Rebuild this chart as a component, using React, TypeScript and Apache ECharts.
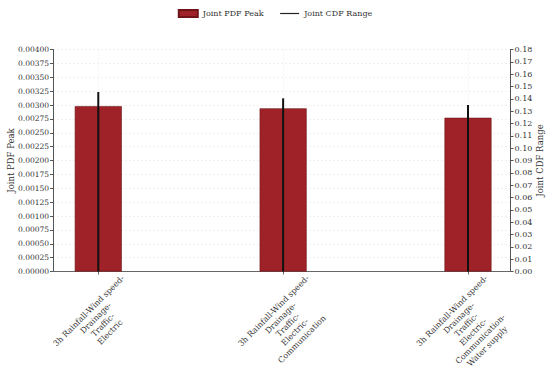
import React, { useEffect, useRef } from "react";
import * as echarts from "echarts";

const categories = [
  "3h Rainfall-Wind speed-\nDrainage-\nTraffic-\nElectric",
  "3h Rainfall-Wind speed-\nDrainage-\nTraffic-\nElectric-\nCommunication",
  "3h Rainfall-Wind speed-\nDrainage-\nTraffic-\nElectric-\nCommunication-\nWater supply",
];
const pdfPeak = [0.00298, 0.00294, 0.00277];
const cdfLow = [0, 0, 0];
const cdfHigh = [0.1455, 0.1404, 0.135];
const positions = [0, 1, 2];
const labelShift = [-0.07, -0.07, -0.105];

const FONT = "DejaVu Serif";

export default function App() {
  const ref = useRef<HTMLDivElement>(null);
  useEffect(() => {
    if (!ref.current) return;
    document.body.style.margin = "0";
    const chart = echarts.init(ref.current, undefined, { renderer: "svg" });
    const option: any = {
      animation: false,
      backgroundColor: "#ffffff",
      textStyle: { fontFamily: FONT },
      legend: {
        top: 4,
        left: "center",
        itemWidth: 19,
        itemHeight: 7,
        itemGap: 16,
        textStyle: { fontFamily: FONT, fontSize: 8, color: "#333" },
        data: [
          { name: "Joint PDF Peak", icon: "rect" },
          { name: "Joint CDF Range", itemStyle: { opacity: 0 }, lineStyle: { color: "#222", width: 1.2 } },
        ],
      },
      grid: { left: 53, right: 39.5, top: 49.5, bottom: 99.5, containLabel: false, outerBoundsMode: "none" },
      xAxis: {
        type: "value",
        min: -0.245,
        max: 2.23,
        axisLine: { show: true, onZero: false, lineStyle: { color: "#666", width: 1 } },
        axisTick: { show: true, customValues: positions, length: 3, lineStyle: { color: "#666" } },
        splitLine: { show: false },
        axisLabel: {
          customValues: positions.map((p, i) => p + labelShift[i]),
          formatter: (v: number) => categories[Math.round(v)] ?? "",
          rotate: 45,
          align: "center",
          verticalAlign: "top",
          margin: 36,
          fontFamily: FONT,
          fontSize: 8,
          lineHeight: 10,
          color: "#333",
        },
      },
      yAxis: [
        {
          type: "value",
          min: 0,
          max: 0.004,
          interval: 0.00025,
          name: "Joint PDF Peak",
          nameLocation: "middle",
          nameGap: 38,
          nameMoveOverlap: false,
          nameTextStyle: { fontFamily: FONT, fontSize: 8.5, color: "#333" },
          axisLine: { show: true, onZero: false, lineStyle: { color: "#555" } },
          axisTick: { show: true, inside: false, length: 3, lineStyle: { color: "#555" } },
          axisLabel: { fontFamily: FONT, fontSize: 7.5, color: "#333", margin: 4, formatter: (v: number) => v.toFixed(5) },
          splitLine: { show: true, lineStyle: { color: "#ececec", width: 0.8, type: [2, 2] } },
        },
        {
          type: "value",
          min: 0,
          max: 0.18,
          interval: 0.01,
          position: "right",
          name: "Joint CDF Range",
          nameLocation: "middle",
          nameGap: 25,
          nameMoveOverlap: false,
          nameTextStyle: { fontFamily: FONT, fontSize: 8.5, color: "#333" },
          axisLine: { show: true, onZero: false, lineStyle: { color: "#555" } },
          axisTick: { show: true, inside: false, length: 3, lineStyle: { color: "#555" } },
          axisLabel: { fontFamily: FONT, fontSize: 8, color: "#333", margin: 4, formatter: (v: number) => v.toFixed(2) },
          splitLine: { show: false },
        },
      ],
      series: [
        {
          name: "Joint PDF Peak",
          type: "bar",
          xAxisIndex: 0,
          yAxisIndex: 0,
          barWidth: 47,
          data: positions.map((p, i) => [p, pdfPeak[i]]),
          itemStyle: { color: "#9E2227", borderColor: "#6f1519", borderWidth: 0.6 },
          markLine: {
            silent: true,
            symbol: "none",
            label: { show: false },
            lineStyle: { color: "#ececec", width: 0.8, type: [2, 2] },
            data: positions.map((p) => ({ xAxis: p })),
            z: 0,
          },
          z: 2,
        },
        {
          name: "Joint CDF Range",
          type: "line",
          xAxisIndex: 0,
          yAxisIndex: 1,
          symbol: "none",
          symbolSize: 0,
          data: [],
          lineStyle: { color: "#222", width: 1.2 },
          itemStyle: { color: "#222" },
        },
        {
          name: "Joint CDF Range",
          type: "custom",
          xAxisIndex: 0,
          yAxisIndex: 1,
          z: 5,
          data: positions.map((p, i) => [p, cdfLow[i], cdfHigh[i]]),
          encode: { x: 0, y: [1, 2] },
          renderItem: (_params: any, api: any) => {
            const x = api.value(0);
            const p1 = api.coord([x, api.value(1)]);
            const p2 = api.coord([x, api.value(2)]);
            return {
              type: "line",
              shape: { x1: p1[0], y1: p1[1], x2: p2[0], y2: p2[1] },
              style: { stroke: "#111", lineWidth: 2 },
            };
          },
        },
      ],
    };
    chart.setOption(option);
    return () => chart.dispose();
  }, []);
  return <div ref={ref} style={{ width: 550, height: 371 }} />;
}
